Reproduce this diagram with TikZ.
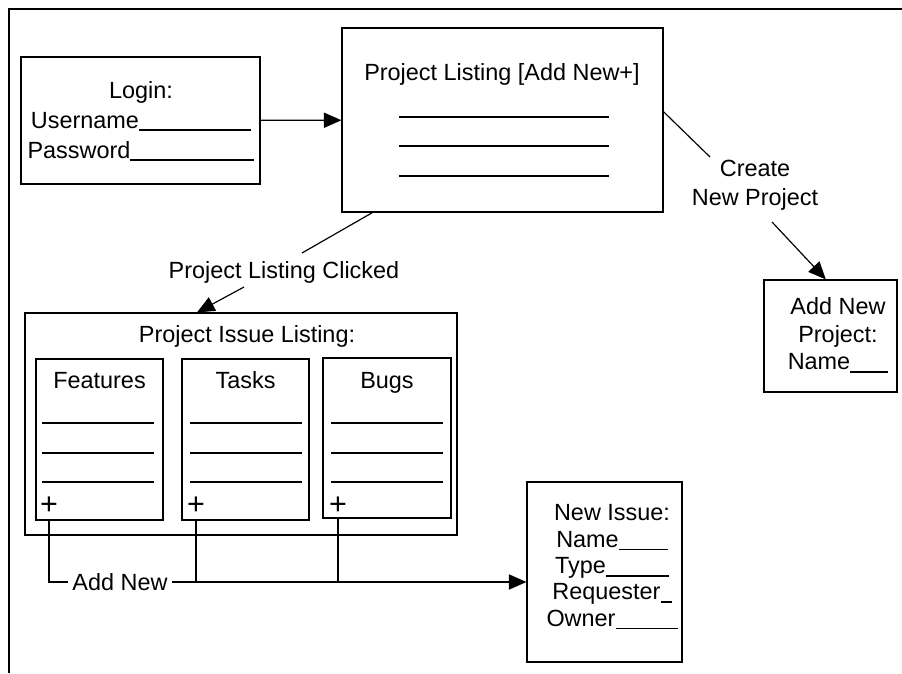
\documentclass[tikz,border=0pt]{standalone}
\usepackage{fontspec}
\setmainfont{Liberation Sans}
\usetikzlibrary{arrows.meta}
\newcommand{\fillin}[1]{\rule[-2.5pt]{#1}{1.4pt}}
\begin{document}
\begin{tikzpicture}
		[x=0.03cm,y=-0.03cm,every node/.style={font=\fontsize{20}{25}\selectfont,align=center},
		screen/.style={draw=black,line width=1pt,inner sep=0pt},
		arrow/.style={-{Triangle[length=15pt,width=13pt]},line width=1pt},
		listline/.style={line width=1.6pt},
		plus/.style={font=\fontsize{26}{26}\selectfont,inner sep=0pt}]
		\useasboundingbox (0,0) rectangle (902,673);

		%%frame
		\draw[line width=1pt] (9,673) -- (9,9) -- (902,9);

		\node[screen,minimum width=7.17cm,minimum height=3.81cm] (login) at (140.5,120.5) {};
		\node[screen,minimum width=9.63cm,minimum height=5.52cm] (plist) at (502.5,120) {};
		\node[screen,minimum width=3.99cm,minimum height=3.36cm] (newproj) at (830.5,336) {};
		\node[screen,minimum width=12.96cm,minimum height=6.66cm] (issues) at (241,424) {};
		\node[screen,minimum width=3.81cm,minimum height=4.83cm] (feat) at (99.5,439.5) {};
		\node[screen,minimum width=3.81cm,minimum height=4.83cm] (tasks) at (245.5,439.5) {};
		\node[screen,minimum width=3.84cm,minimum height=4.80cm] (bugs) at (387,438) {};
		\node[screen,minimum width=4.65cm,minimum height=5.40cm] (newissue) at (604.5,572) {};

		\node[font=\fontsize{20}{25.6}\selectfont] (logintxt) at (141,121)
			{Login:\\Username\fillin{3.36cm}\\Password\fillin{3.72cm}};
		\node (plisttitle) at (502,74) {Project Listing [Add New+]};
		\node[font=\fontsize{20}{24.5}\selectfont] (cnp) at (755,185) {Create\\New Project};
		\node[font=\fontsize{20}{23.8}\selectfont] (newprojtxt) at (838,335)
			{Add New\\Project:\\Name\fillin{1.14cm}};
		\node (plc) at (284,272) {Project Listing Clicked};
		\node (issuetitle) at (247,336) {Project Issue Listing:};
		\node[anchor=base] (feattitle) at (99.5,388) {Features};
		\node[anchor=base] (taskstitle) at (245.5,388) {Tasks};
		\node[anchor=base] (bugstitle) at (387,388) {Bugs};
		\node[plus] (p1) at (49,506) {+};
		\node[plus] (p2) at (196,506) {+};
		\node[plus] (p3) at (338,506) {+};
		\node (addnew) at (120,582) {Add New};
		\node[font=\fontsize{20}{22.5}\selectfont] (newissuetxt) at (612,567)
			{New Issue:\\Name\fillin{1.47cm}\\Type\fillin{1.89cm}\\Requester\fillin{0.33cm}\\Owner\fillin{1.86cm}};

		%%list lines
		\foreach \y in {117,146,176}
		\draw[listline] (399,\y) -- (609,\y);
		\foreach \x in {42,190,331}
		\foreach \y in {423,453,482}
		\draw[listline] (\x,\y) -- ++(112,0);

		%%connectors
		\draw[arrow] (login) -- (plist);
		\draw[line width=1pt] ([yshift=7pt]plist.east) -- ([shift={(-45,-28)}]cnp.center);
		\draw[arrow] ([shift={(17,37)}]cnp.center) -- ([xshift=-4pt]newproj.north);
		\draw[line width=1pt] ([shift={(31,0)}]plist.south west) -- ([shift={(18,-19)}]plc.center);
		\draw[arrow] ([shift={(-40,15)}]plc.center) -- ([shift={(-44,0)}]issues.north);

		\draw[line width=1pt] (p1 |- feat.south) |- (addnew.west);
		\draw[arrow] (addnew.east) -- (addnew.east -| newissue.west);
		\foreach \from/\to in {p2/tasks,p3/bugs}
		\draw[line width=1pt] (\from |- \to.south) -- (\from |- addnew.east);
\end{tikzpicture}
\end{document}
